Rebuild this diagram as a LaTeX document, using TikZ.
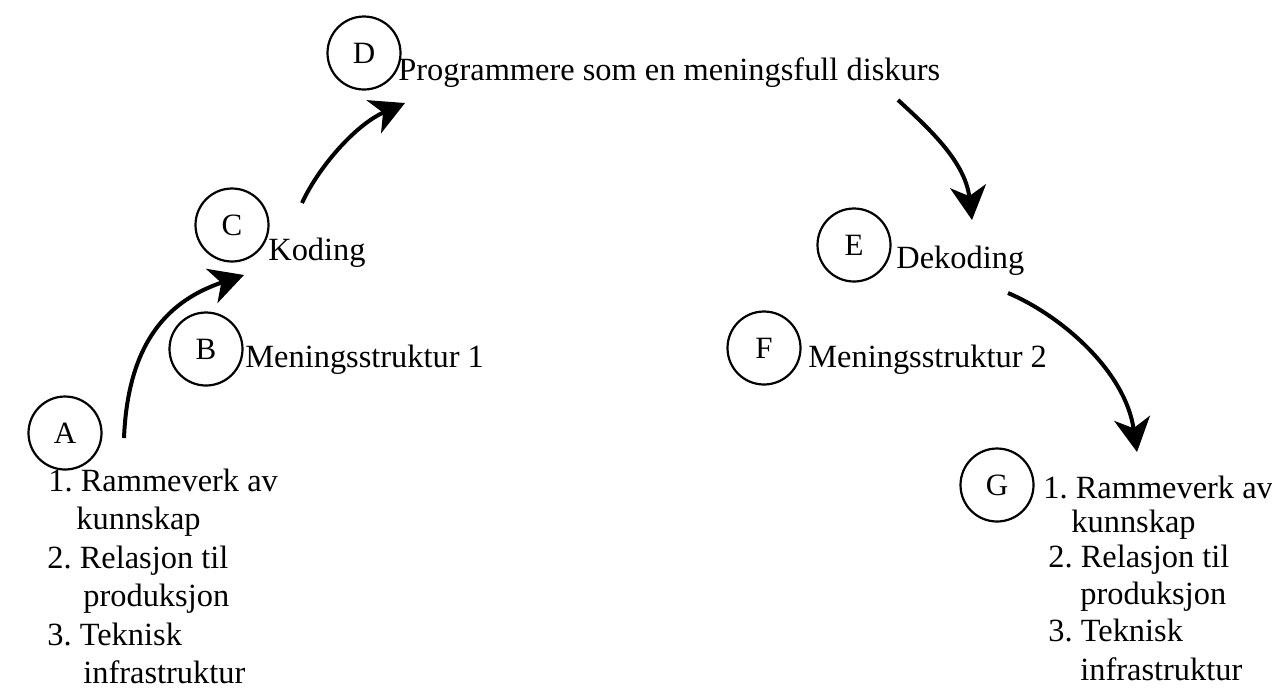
\documentclass[tikz,border=0pt]{standalone}
\usepackage{fontspec}
\setmainfont{Liberation Serif}
\usetikzlibrary{arrows.meta}
\frenchspacing
\begin{document}
\begin{tikzpicture}[x=0.5pt,y=-0.5pt,
  lab/.style={circle, draw, line width=1.1pt, minimum size=36.5pt, inner sep=0pt, font=\fontsize{15.5}{18}\selectfont},
  txt/.style={anchor=base west, inner sep=0pt, font=\fontsize{16.2}{19}\selectfont},
  arr/.style={line width=2pt, -{Stealth[length=17pt,width=18pt,inset=5pt]}}]
\useasboundingbox (0,0) rectangle (1272,687);
% circles
\node[lab] (A) at (65,433) {A};
\node[lab] (B) at (206,349) {B};
\node[lab] (C) at (232,225) {C};
\node[lab] (D) at (364,53) {D};
\node[lab] (E) at (854,245) {E};
\node[lab] (F) at (764,348) {F};
\node[lab] (G) at (997,485) {G};
% labels
\node[txt] (tD) at (398,80) {Programmere som en meningsfull diskurs};
\node[txt] (tC) at (268,260) {Koding};
\node[txt] (tB) at (245,367) {Meningsstruktur 1};
\node[txt] (tE) at (896,268) {Dekoding};
\node[txt] (tF) at (808,367) {Meningsstruktur 2};
% left list
\node[txt] (l1) at (48,491) {1. Rammeverk av};
\node[txt] (l2) at (76,529) {kunnskap};
\node[txt] (l3) at (47,568) {2. Relasjon til};
\node[txt] (l4) at (83,606) {produksjon};
\node[txt] (l5) at (47,645) {3. Teknisk};
\node[txt] (l6) at (83,683) {infrastruktur};
% right list
\node[txt] (r1) at (1043,498) {1. Rammeverk av};
\node[txt] (r2) at (1071,532) {kunnskap};
\node[txt] (r3) at (1048,567) {2. Relasjon til};
\node[txt] (r4) at (1080,604) {produksjon};
\node[txt] (r5) at (1048,641) {3. Teknisk};
\node[txt] (r6) at (1080,680) {infrastruktur};
% connector ends
\coordinate (a1s) at (124,438);
\coordinate (a1e) at (244,275);
\coordinate (a2s) at (302,203);
\coordinate (a2e) at (405,103);
\coordinate (a3s) at (898,100);
\coordinate (a3e) at (972,220);
\coordinate (a4s) at (1008,293);
\coordinate (a4e) at (1137,452);
% arrows
\draw[arr] (a1s) .. controls (128,340) and (170,300) .. (a1e);
\draw[arr] (a2s) .. controls (318,168) and (355,125) .. (a2e);
\draw[arr] (a3s) .. controls (925,125) and (965,160) .. (a3e);
\draw[arr] (a4s) .. controls (1060,315) and (1125,370) .. (a4e);
\end{tikzpicture}
\end{document}
